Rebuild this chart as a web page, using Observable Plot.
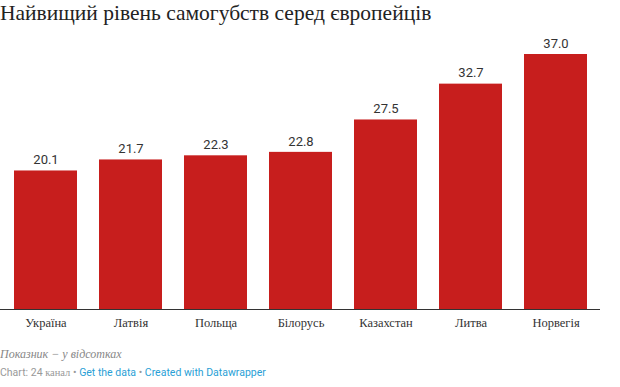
<!DOCTYPE html>
<html>
<head>
<meta charset="utf-8">
<script src="https://cdn.jsdelivr.net/npm/d3@7"></script>
<script src="https://cdn.jsdelivr.net/npm/@observablehq/plot@0.6"></script>
<style>
  html, body { margin: 0; padding: 0; background: #fff; width: 620px; height: 387px; overflow: hidden; position: relative; }
  #title { position: absolute; left: 0; top: 0; font-family: "Liberation Serif", serif; font-size: 21.5px; color: #222; line-height: 27px; white-space: nowrap; }
  #chart { position: absolute; left: 0; top: 32px; }
  #caption { position: absolute; left: 0; top: 347px; font-family: "Liberation Serif", serif; font-style: italic; font-size: 12px; color: #888; white-space: nowrap; }
  #footer { position: absolute; left: 0; top: 366px; font-family: Roboto, sans-serif; font-size: 10.5px; color: #999; white-space: nowrap; }
  #footer .s { font-family: "Liberation Serif", serif; font-size: 10.5px; }
  #footer a { color: #2a9fd6; text-decoration: none; }
</style>
</head>
<body>
<div id="title">Найвищий рівень самогубств серед європейців</div>
<div id="chart"></div>
<div id="caption">Показник − у відсотках</div>
<div id="footer">Chart: 24 <span class="s">канал</span> • <a>Get the data</a> • <a>Created with Datawrapper</a></div>
<script>
const countries = ["Україна", "Латвія", "Польща", "Білорусь", "Казахстан", "Литва", "Норвегія"];
const values = [20.1, 21.7, 22.3, 22.8, 27.5, 32.7, 37.0];

const data = countries.map((c, i) => ({country: c, value: values[i]}));

const chart = Plot.plot({
  width: 620,
  height: 304,
  marginLeft: 0,
  marginRight: 20,
  marginTop: 22,
  marginBottom: 27,
  style: {background: "transparent", overflow: "visible"},
  x: {domain: countries, paddingInner: 0.263, paddingOuter: 0.12, label: null, axis: null},
  y: {domain: [0, 37], axis: null, label: null},
  marks: [
    Plot.barY(data, {x: "country", y: "value", fill: "#c71e1d"}),
    Plot.text(data, {x: "country", y: "value", text: d => d.value.toFixed(1), dy: -11, fill: "#333", fontSize: 13, fontFamily: "Roboto, sans-serif"}),
    Plot.ruleY([0], {stroke: "#333", strokeWidth: 1.2}),
    Plot.axisX({anchor: "bottom", tickSize: 0, tickPadding: 9, fontSize: 12.5, fontFamily: "Liberation Serif, serif", color: "#333", label: null})
  ]
});
document.getElementById("chart").appendChild(chart);
</script>
</body>
</html>
